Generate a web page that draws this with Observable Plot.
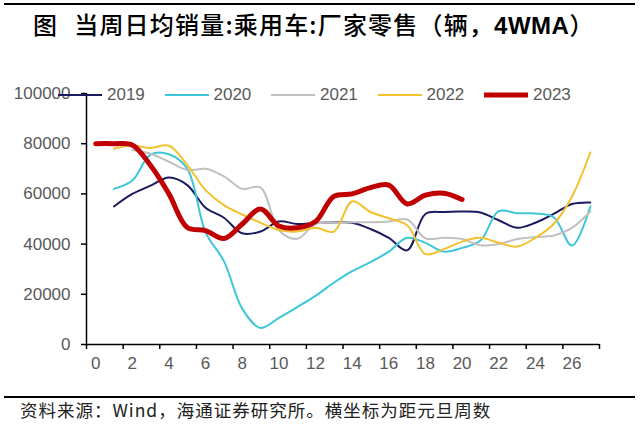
<!DOCTYPE html>
<html>
<head>
<meta charset="utf-8">
<script src="https://cdn.jsdelivr.net/npm/d3@7"></script>
<script src="https://cdn.jsdelivr.net/npm/@observablehq/plot@0.6"></script>
<style>
  html, body { margin: 0; padding: 0; background: #fff; }
  #page { position: relative; width: 640px; height: 431px; overflow: hidden; background: #fff; font-family: "Liberation Sans", Arial, sans-serif; }
  .rule { position: absolute; left: 4px; width: 631px; height: 2px; background: #000; }
  #title { position: absolute; left: 33px; top: 7px; font-family: "Noto Sans CJK SC", sans-serif; font-size: 24px; letter-spacing: 1.2px; font-weight: 500; color: #000; white-space: nowrap; line-height: 34px; }
  #title .lat { font-family: "Liberation Sans", Arial, sans-serif; font-weight: 700; letter-spacing: 0.5px; }
  #caption { position: absolute; left: 20px; top: 398px; font-family: "Noto Sans CJK SC", sans-serif; font-size: 17.5px; letter-spacing: 1px; color: #222; white-space: nowrap; line-height: 24px; }
  #chart { position: absolute; left: 0; top: 45px; }
  #legend { position: absolute; left: 58px; top: 84px; display: flex; font-size: 17px; color: #595959; }
  #legend .item { display: flex; align-items: center; width: 106.5px; height: 22px; }
  #legend svg { margin-right: 5px; }
</style>
</head>
<body>
<div id="page">
  <div class="rule" style="top:3px"></div>
  <div id="title">图<span style="display:inline-block;width:16px"></span>当周日均销量:乘用车:厂家零售（辆，<span class="lat">4WMA</span>）</div>
  <div id="chart"></div>
  <div id="legend"></div>
  <div class="rule" style="top:396px"></div>
  <div id="caption">资料来源：Wind，海通证券研究所。横坐标为距元旦周数</div>
</div>
<script>
// Week index (weeks since New Year)
const weeks = d3.range(0, 28);
const years = ["2019", "2020", "2021", "2022", "2023"];
const colors = ["#1c1a5e", "#3cc6d8", "#c0c0c0", "#f2c12e", "#c00000"];
const widths = [2, 2, 2, 2, 5];

const v2019 = [null, 55000, 60000, 63300, 66500, 63500, 54500, 50500, 44300, 45000, 49000, 48000, 48500, 48600, 48500, 46000, 42500, 37500, 52000, 52800, 53000, 52600, 49500, 46500, 48500, 52000, 56000, 56600];
const v2020 = [null, 62000, 65300, 75700, 75800, 70000, 44700, 33200, 14300, 6600, 10600, 14900, 19400, 24600, 29200, 32800, 37000, 42500, 40500, 37000, 38500, 41400, 53100, 52300, 52200, 50700, 39400, 55000];
const v2021 = [null, null, 77500, 76000, 72800, 69500, 70000, 67000, 62000, 62500, 45500, 42100, 48000, 48500, 48700, 48700, 49000, 49800, 42300, 42500, 42000, 39500, 40000, 42000, 42800, 43400, 46500, 53000];
const v2022 = [null, 78000, 79300, 78300, 79200, 71500, 61500, 55500, 51800, 48500, 45600, 45000, 46500, 45000, 57000, 52800, 50300, 47500, 36000, 38000, 41000, 42500, 40500, 39000, 42500, 48000, 59000, 76500];
const v2023 = [80000, 80000, 79500, 71300, 60000, 46600, 45400, 42200, 48000, 54000, 47200, 46500, 49000, 59000, 60000, 62500, 63500, 56000, 59500, 60300, 57800];

const yTicks = [0, 20000, 40000, 60000, 80000, 100000];
const xLabels = d3.range(0, 27, 2);          // 0,2,...,26
const xTickMarks = d3.range(-0.5, 28, 2);    // category boundaries

const seriesValues = [v2019, v2020, v2021, v2022, v2023];
const rows = years.map((yr, k) =>
  seriesValues[k].map((v, i) => ({year: yr, week: weeks[i], value: v})).filter(d => d.value != null)
);

const font = "Liberation Sans, Arial, sans-serif";
const lines = rows.map((data, k) =>
  Plot.line(data, {x: "week", y: "value", stroke: colors[k], strokeWidth: widths[k], curve: "catmull-rom", strokeLinecap: "round", strokeLinejoin: "round"})
);

const chart = Plot.plot({
  width: 640,
  height: 350,
  marginLeft: 86,
  marginRight: 41,
  marginTop: 48,
  marginBottom: 51,
  style: {fontFamily: font, fontSize: "17px", background: "transparent", overflow: "visible"},
  x: {domain: [-0.5, 27.5]},
  y: {domain: [0, 100000]},
  marks: [
    ...lines,
    Plot.ruleY([0], {stroke: "#000", strokeWidth: 1.5}),
    Plot.ruleX([-0.5], {stroke: "#000", strokeWidth: 1.5}),
    Plot.axisY({ticks: yTicks, tickSize: 5, tickFormat: () => "", stroke: "#000", strokeWidth: 1.5, label: null}),
    Plot.axisY({ticks: yTicks, tickSize: 0, tickPadding: 16, tickFormat: d => String(d), fill: "#595959", fontSize: 17, label: null}),
    Plot.axisX({ticks: xTickMarks, tickSize: 5, tickFormat: () => "", stroke: "#000", strokeWidth: 1.5, label: null}),
    Plot.axisX({ticks: xLabels, tickSize: 0, tickPadding: 12, tickFormat: d => String(d), fill: "#595959", fontSize: 17, label: null})
  ]
});
document.getElementById("chart").appendChild(chart);

// Legend
const legend = document.getElementById("legend");
years.forEach((yr, k) => {
  const item = document.createElement("div");
  item.className = "item";
  item.innerHTML = `<svg width="44" height="10"><line x1="0" y1="5" x2="44" y2="5" stroke="${colors[k]}" stroke-width="${widths[k]}" stroke-linecap="round"/></svg><span>${yr}</span>`;
  legend.appendChild(item);
});
</script>
</body>
</html>
